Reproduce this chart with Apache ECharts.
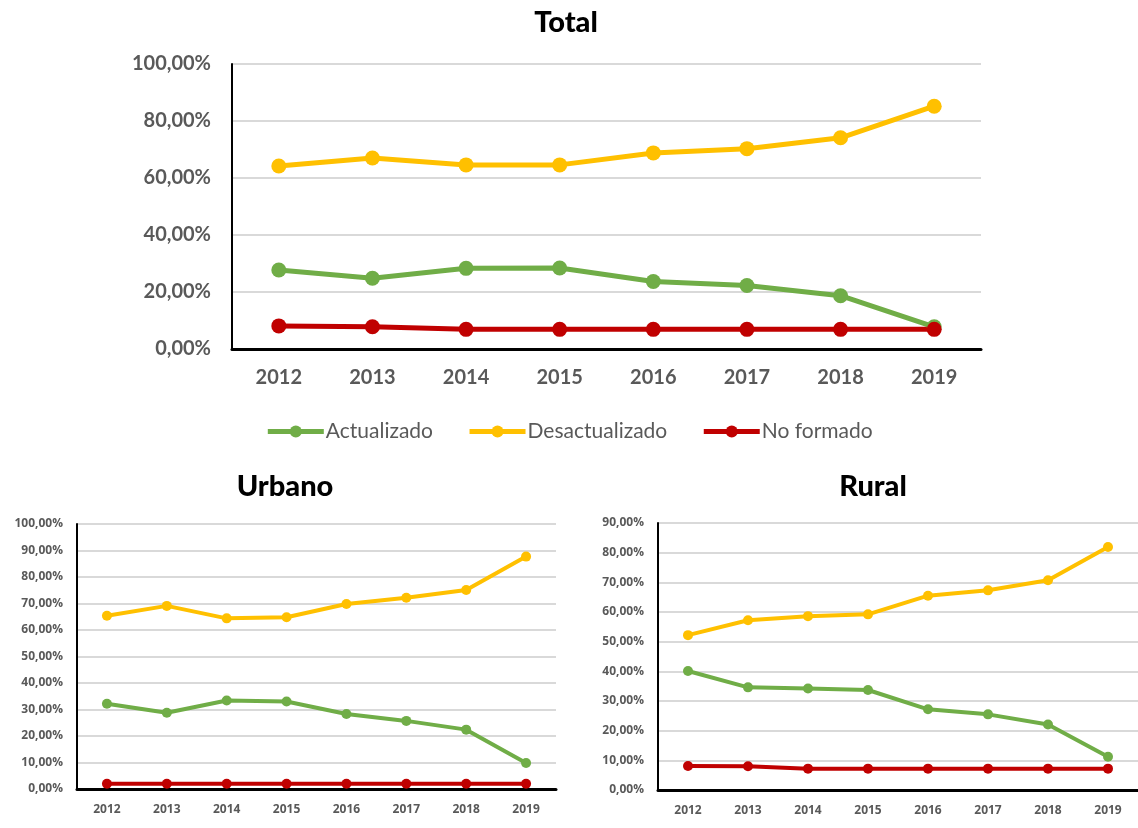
<!DOCTYPE html>
<html>
<head>
<meta charset="utf-8">
<script src="https://cdn.jsdelivr.net/npm/echarts@6/dist/echarts.min.js"></script>
<style>
  html, body { margin: 0; padding: 0; background: #fff; }
  #chart { width: 1138px; height: 828px; }
</style>
</head>
<body>
<div id="chart"></div>
<script>
const years = ['2012', '2013', '2014', '2015', '2016', '2017', '2018', '2019']

const totalActualizado = [27.7, 24.8, 28.3, 28.4, 23.7, 22.3, 18.7, 7.8]
const totalDesactualizado = [64.2, 67.0, 64.6, 64.6, 68.8, 70.3, 74.1, 85.2]
const totalNoFormado = [8.1, 7.8, 6.9, 6.9, 6.9, 6.9, 6.9, 6.9]

const urbanoActualizado = [32.2, 28.8, 33.4, 33.0, 28.3, 25.7, 22.4, 9.8]
const urbanoDesactualizado = [65.4, 69.1, 64.4, 64.8, 69.8, 72.2, 75.1, 87.7]
const urbanoNoFormado = [2.0, 2.0, 2.0, 2.0, 2.0, 2.0, 2.0, 2.0]

const ruralActualizado = [40.1, 34.6, 34.2, 33.7, 27.2, 25.5, 22.1, 11.2]
const ruralDesactualizado = [52.2, 57.2, 58.6, 59.2, 65.5, 67.3, 70.7, 81.9]
const ruralNoFormado = [8.1, 8.0, 7.2, 7.2, 7.2, 7.2, 7.2, 7.2]

const names = ['Actualizado', 'Desactualizado', 'No formado']
const colors = ['#70AD47', '#FFC000', '#C00000']

const pct = v => v.toFixed(2).replace('.', ',') + '%'
const titleFont = 'Lato, "DejaVu Sans", sans-serif'
const smallFont = '"Liberation Sans Narrow", "Open Sans", sans-serif'

function xAx (gridIndex, size, font) {
  return {
    type: 'category',
    gridIndex: gridIndex,
    data: years,
    boundaryGap: true,
    axisLine: { lineStyle: { color: '#000', width: 3 } },
    axisTick: { show: false },
    axisLabel: { color: '#595959', fontWeight: 'bold', fontSize: size, fontFamily: font, margin: gridIndex === 0 ? 19 : 15 }
  }
}

function yAx (gridIndex, max, interval, size, font) {
  return {
    type: 'value',
    gridIndex: gridIndex,
    min: 0,
    max: max,
    interval: interval,
    axisLine: { show: true, lineStyle: { color: '#000', width: 2 } },
    axisTick: { show: false },
    splitLine: { lineStyle: { color: '#d9d9d9', width: 2 } },
    axisLabel: { color: '#595959', fontWeight: 'bold', fontSize: size, fontFamily: font, formatter: pct, margin: gridIndex === 0 ? 21 : 14 }
  }
}

function lines (idx, sets, width, symSize) {
  return sets.map((d, i) => ({
    name: names[i],
    type: 'line',
    xAxisIndex: idx,
    yAxisIndex: idx,
    data: d,
    symbol: 'circle',
    symbolSize: symSize,
    color: colors[i],
    lineStyle: { width: width, color: colors[i] },
    itemStyle: { color: colors[i] }
  }))
}

const titleStyle = { fontSize: 29, fontWeight: 900, color: '#000', fontFamily: titleFont }

let chart = echarts.init(document.getElementById('chart'))
chart.setOption({
  animation: false,
  backgroundColor: '#fff',
  title: [
    { text: 'Total', left: 561, top: 3, textAlign: 'center', textStyle: titleStyle },
    { text: 'Urbano', left: 280, top: 467, textAlign: 'center', textStyle: titleStyle },
    { text: 'Rural', left: 868, top: 467, textAlign: 'center', textStyle: titleStyle }
  ],
  legend: {
    data: names,
    top: 416,
    left: 'center',
    itemWidth: 56,
    itemHeight: 15,
    itemGap: 34,
    lineStyle: { width: 5 },
    textStyle: { color: '#595959', fontSize: 21, fontFamily: 'Lato, sans-serif', padding: [0, 0, 0, -3] }
  },
  grid: [
    { left: 232, right: 157, top: 64, bottom: 479 },
    { left: 77, right: 582, top: 524, bottom: 39 },
    { left: 658, right: -6, top: 523, bottom: 38 }
  ],
  xAxis: [
    xAx(0, 20, titleFont),
    xAx(1, 12, smallFont),
    xAx(2, 12, smallFont)
  ],
  yAxis: [
    yAx(0, 100, 20, 20, titleFont),
    yAx(1, 100, 10, 12, smallFont),
    yAx(2, 90, 10, 12, smallFont)
  ],
  series: [].concat(
    lines(0, [totalActualizado, totalDesactualizado, totalNoFormado], 5, 15),
    lines(1, [urbanoActualizado, urbanoDesactualizado, urbanoNoFormado], 4, 10),
    lines(2, [ruralActualizado, ruralDesactualizado, ruralNoFormado], 4, 10)
  )
})
</script>
</body>
</html>
